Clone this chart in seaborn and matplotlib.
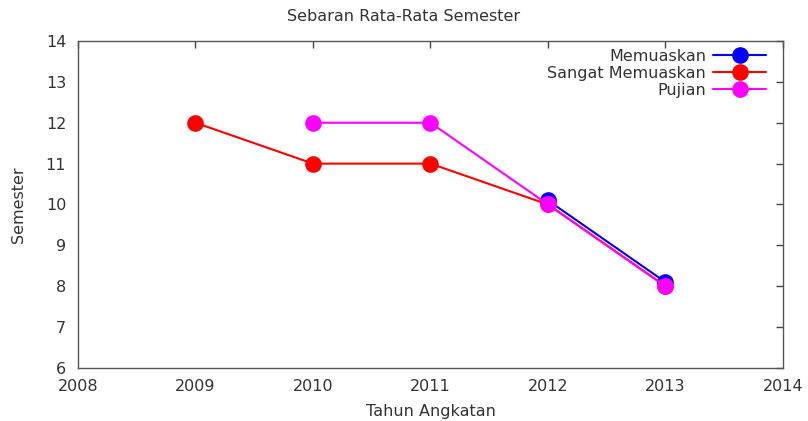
import matplotlib
matplotlib.use("Agg")
import matplotlib.pyplot as plt
import seaborn as sns
import pandas as pd

years_memuaskan = [2012, 2013]
vals_memuaskan = [10.1, 8.1]
years_sangat = [2009, 2010, 2011, 2012, 2013]
vals_sangat = [12, 11, 11, 10, 8]
years_pujian = [2010, 2011, 2012, 2013]
vals_pujian = [12, 12, 10, 8]

series_names = ["Memuaskan", "Sangat Memuaskan", "Pujian"]
colors = ["#0000ff", "#ff0000", "#ff00ff"]

df = pd.concat([
    pd.DataFrame({"Tahun": years_memuaskan, "Semester": vals_memuaskan, "Kategori": series_names[0]}),
    pd.DataFrame({"Tahun": years_sangat, "Semester": vals_sangat, "Kategori": series_names[1]}),
    pd.DataFrame({"Tahun": years_pujian, "Semester": vals_pujian, "Kategori": series_names[2]}),
])

sns.set_theme(style="white")
plt.rcParams['font.family'] = ['DejaVu Sans']
FS = 11.5

fig = plt.figure(figsize=(8.08, 4.21), dpi=100)
ax = fig.add_axes([0.0965, 0.126, 0.8725, 0.7766])

for name, c in zip(series_names, colors):
    sub = df[df["Kategori"] == name]
    sns.lineplot(data=sub, x="Tahun", y="Semester", ax=ax, color=c, marker="o",
                 markersize=12, markeredgewidth=0, linewidth=1.5, label=name, sort=False)

ax.set_xlim(2008, 2014)
ax.set_ylim(6, 14)
ax.set_xticks(range(2008, 2015))
ax.set_yticks(range(6, 15))
ax.tick_params(direction="in", length=5, width=1, colors="#444444", labelsize=FS,
               top=True, right=True, labelcolor="#333333")
ax.tick_params(axis="y", pad=8.5)
ax.tick_params(axis="x", pad=8)
for s in ax.spines.values():
    s.set_color("#555555")
    s.set_linewidth(1)
ax.set_xlabel("Tahun Angkatan", fontsize=FS, color="#333333", labelpad=7)
ax.set_ylabel("Semester", fontsize=FS, color="#333333", labelpad=14)
fig.suptitle("Sebaran Rata-Rata Semester", fontsize=FS, color="#333333", y=0.978)

leg = ax.legend(loc="upper right", markerfirst=False, frameon=False, fontsize=FS,
                handlelength=3.3, handletextpad=0.45, labelspacing=0.12,
                borderaxespad=0, borderpad=0,
                bbox_to_anchor=(1 - 17 / 705, 1 - 8 / 327))
for t in leg.get_texts():
    t.set_ha("right")
    t.set_color("#333333")
leg._legend_box.align = "right"

fig.savefig("out.png", dpi=100)
